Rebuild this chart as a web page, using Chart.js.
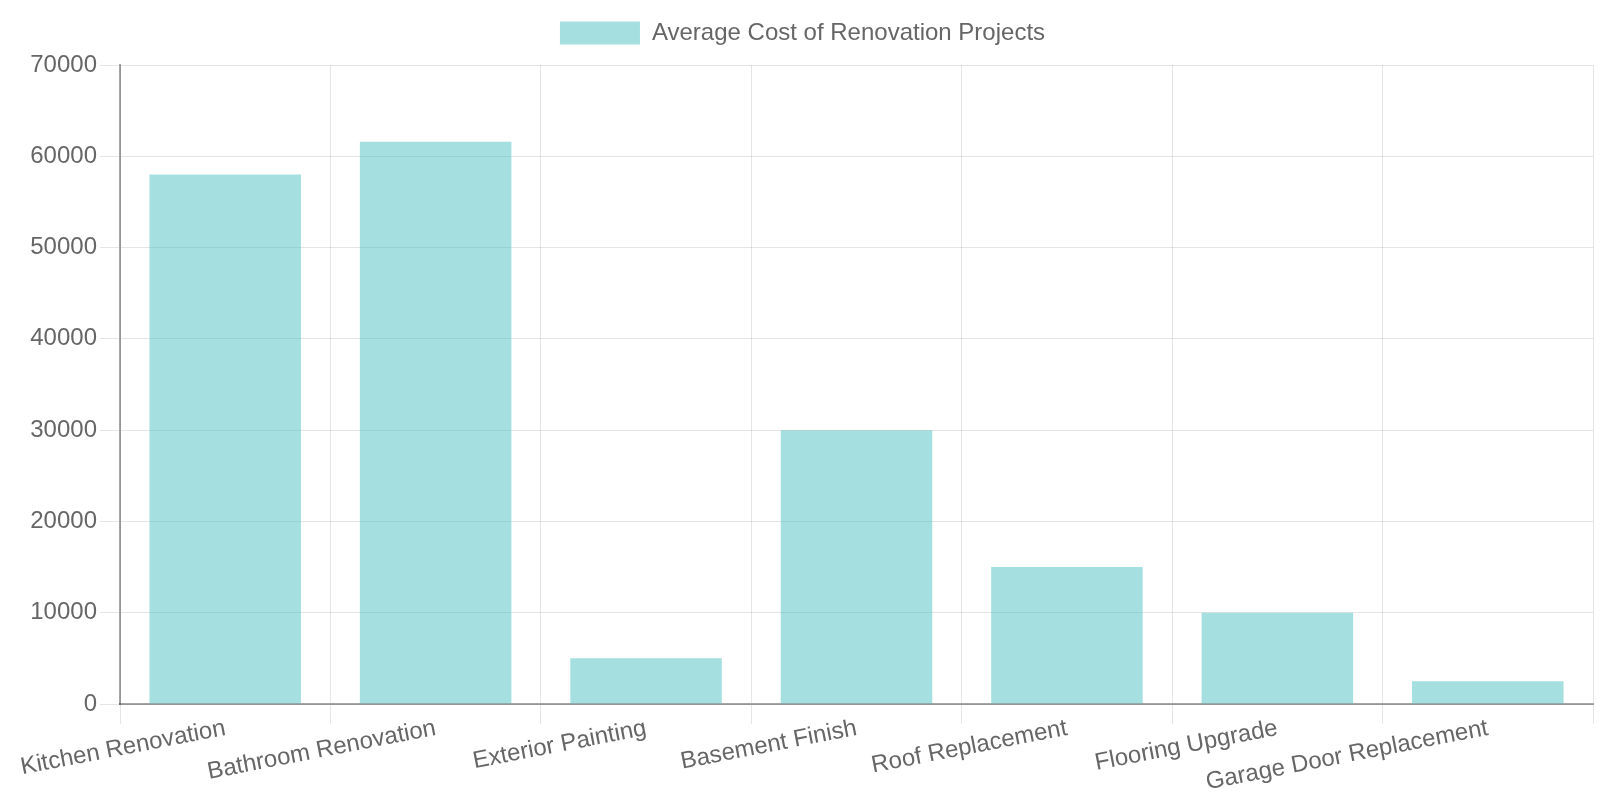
<!DOCTYPE html>
<html>
<head>
<meta charset="utf-8">
<script src="https://cdn.jsdelivr.net/npm/chart.js@4/dist/chart.umd.min.js"></script>
<style>
  html, body { margin: 0; padding: 0; background: #fff; }
  #wrap { width: 1600px; height: 800px; }
</style>
</head>
<body>
<div id="wrap"><canvas id="chart"></canvas></div>
<script>
const projects = ['Kitchen Renovation', 'Bathroom Renovation', 'Exterior Painting', 'Basement Finish', 'Roof Replacement', 'Flooring Upgrade', 'Garage Door Replacement'];
const avgCost = [58000, 61600, 5000, 30000, 15000, 10000, 2500];

Chart.defaults.font.family = '"Liberation Sans", Arial, sans-serif';
Chart.defaults.font.size = 24;
Chart.defaults.color = '#666';

// a bit of extra room under the legend
const legendMargin = {
    id: 'legendMargin',
    beforeInit(chart) {
        const fit = chart.legend.fit;
        chart.legend.fit = function () {
            fit.bind(chart.legend)();
            this.height += 10;
        };
    },
};

new Chart(document.getElementById('chart'), {
    type: 'bar',
    data: {
        labels: projects,
        datasets: [
            {
                label: 'Average Cost of Renovation Projects',
                data: avgCost,
                backgroundColor: 'rgba(75, 192, 192, 0.5)',
                borderWidth: 0,
            },
        ],
    },
    options: {
        responsive: true,
        maintainAspectRatio: false,
        animation: false,
        layout: { padding: { top: 11, right: 7, left: 12 } },
        scales: {
            x: {
                ticks: { minRotation: 11, maxRotation: 11, padding: -10 },
                grid: { color: 'rgba(0,0,0,0.1)', tickLength: 20 },
                border: { color: 'rgba(0,0,0,0.35)', width: 2 },
                afterFit: (scale) => { scale.height += 13; },
            },
            y: {
                beginAtZero: true,
                max: 70000,
                ticks: { stepSize: 10000, callback: (v) => String(v) },
                grid: { color: 'rgba(0,0,0,0.1)', tickLength: 20 },
                border: { color: 'rgba(0,0,0,0.35)', width: 2 },
                afterFit: (scale) => { scale.width = 108; },
            },
        },
        plugins: {
            legend: {
                labels: { boxWidth: 80, boxHeight: 23 },
            },
            tooltip: { enabled: false },
        },
    },
    plugins: [legendMargin],
});
</script>
</body>
</html>
